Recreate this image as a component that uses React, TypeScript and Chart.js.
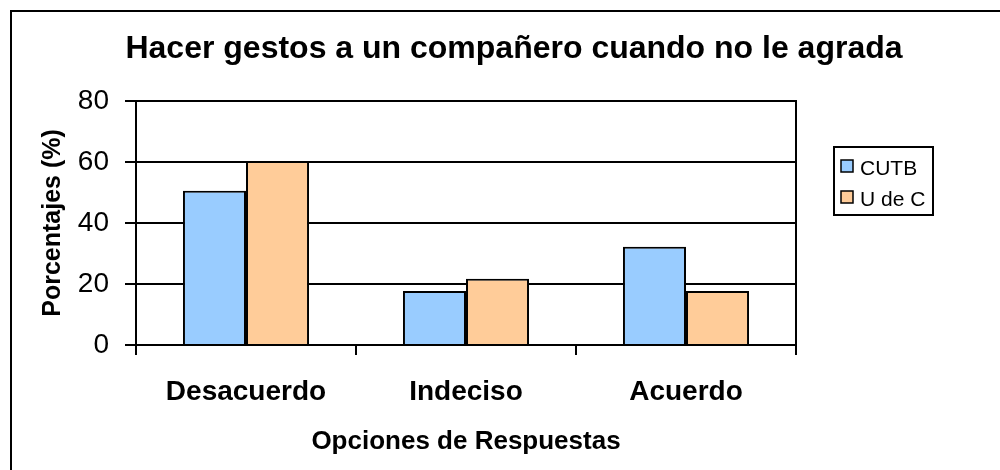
import React, { useEffect, useRef } from "react";
import { Chart, registerables } from "chart.js";

Chart.register(...registerables);

const TITLE = "Hacer gestos a un compañero cuando no le agrada";
const Y_TITLE = "Porcentajes (%)";
const X_TITLE = "Opciones de Respuestas";
const CATEGORIES = ["Desacuerdo", "Indeciso", "Acuerdo"];
const SERIES_NAMES = ["CUTB", "U de C"];
const CUTB_VALUES = [50.6, 17.7, 32.2];
const UDEC_VALUES = [60.3, 21.7, 17.7];
const SERIES_COLORS = ["#99CCFF", "#FFCC99"];
const Y_MIN = 0;
const Y_MAX = 80;
const Y_STEP = 20;

const FONT = "'Liberation Sans', Arial, Helvetica, sans-serif";

const decorPlugin = {
  id: "decor",
  afterDraw(chart: any) {
    const ctx = chart.ctx;
    const area = chart.chartArea;
    ctx.save();
    // outer frame
    ctx.strokeStyle = "#000";
    ctx.lineWidth = 2;
    ctx.strokeRect(11, 11, 1000, 480);
    // plot area border
    ctx.strokeRect(area.left, area.top, area.right - area.left, area.bottom - area.top);
    // title
    ctx.fillStyle = "#000";
    ctx.font = `bold 32px ${FONT}`;
    ctx.textAlign = "center";
    ctx.textBaseline = "alphabetic";
    ctx.fillText(TITLE, 514, 58);
    // legend box
    ctx.lineWidth = 2;
    ctx.strokeRect(834, 147, 99, 68);
    ctx.font = `21px ${FONT}`;
    ctx.textAlign = "left";
    const baselines = [175, 206];
    chart.data.datasets.forEach((ds: any, i: number) => {
      const by = baselines[i];
      ctx.fillStyle = ds.backgroundColor;
      ctx.fillRect(841, by - 15, 12, 12);
      ctx.lineWidth = 1.5;
      ctx.strokeStyle = "#000";
      ctx.strokeRect(841, by - 15, 12, 12);
      ctx.fillStyle = "#000";
      ctx.fillText(ds.label, 860, by);
    });
    ctx.restore();
  },
};

export default function App() {
  const ref = useRef<HTMLCanvasElement | null>(null);

  useEffect(() => {
    if (!ref.current) return;
    const chart = new Chart(ref.current, {
      type: "bar",
      data: {
        labels: CATEGORIES,
        datasets: [
          {
            label: SERIES_NAMES[0],
            data: CUTB_VALUES,
            backgroundColor: SERIES_COLORS[0],
            borderColor: "#000",
            borderWidth: 2,
            barPercentage: 1,
            categoryPercentage: 0.573,
          },
          {
            label: SERIES_NAMES[1],
            data: UDEC_VALUES,
            backgroundColor: SERIES_COLORS[1],
            borderColor: "#000",
            borderWidth: 2,
            barPercentage: 1,
            categoryPercentage: 0.573,
          },
        ],
      },
      options: {
        animation: false,
        responsive: false,
        devicePixelRatio: 1,
        layout: { padding: { left: 10, right: 204, top: 101, bottom: 10 } },
        plugins: {
          legend: { display: false },
          title: { display: false },
          tooltip: { enabled: false },
        },
        scales: {
          x: {
            offset: true,
            grid: {
              offset: true,
              drawOnChartArea: false,
              drawTicks: true,
              tickLength: 10,
              color: "#000",
              lineWidth: 2,
            },
            border: { display: true, color: "#000", width: 2 },
            ticks: {
              color: "#000",
              padding: 20,
              font: { family: FONT, size: 28, weight: "bold" },
              maxRotation: 0,
            },
            title: {
              display: true,
              text: X_TITLE,
              color: "#000",
              font: { family: FONT, size: 26, weight: "bold" },
              padding: { top: 0, bottom: 3 },
            },
            afterFit(scale: any) {
              scale.height = 115;
            },
          },
          y: {
            min: Y_MIN,
            max: Y_MAX,
            grid: {
              color: "#000",
              lineWidth: 2,
              drawTicks: true,
              tickLength: 11,
            },
            border: { display: true, color: "#000", width: 2 },
            ticks: {
              stepSize: Y_STEP,
              color: "#000",
              padding: 16,
              font: { family: FONT, size: 28 },
            },
            title: {
              display: true,
              text: Y_TITLE,
              color: "#000",
              font: { family: FONT, size: 25, weight: "bold" },
              padding: { top: 28, bottom: 0 },
            },
            afterFit(scale: any) {
              scale.width = 126;
            },
          },
        },
      },
      plugins: [decorPlugin],
    });
    return () => chart.destroy();
  }, []);

  return (
    <div style={{ position: "fixed", left: 0, top: 0, width: 1000, height: 470, background: "#fff" }}>
      <canvas ref={ref} width={1000} height={470} style={{ display: "block" }} />
    </div>
  );
}
